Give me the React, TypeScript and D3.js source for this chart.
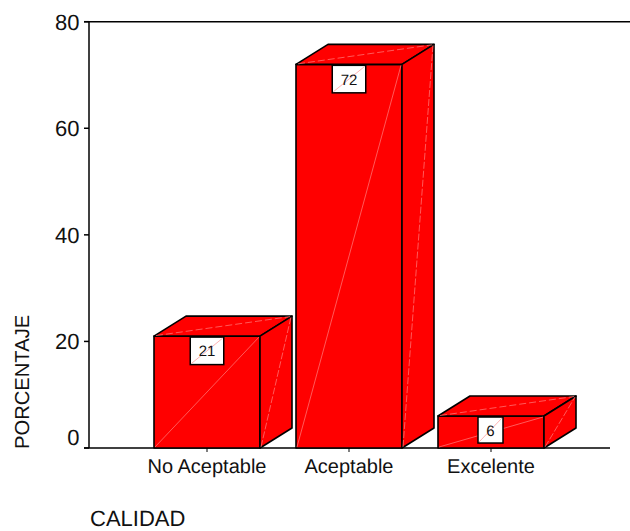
import * as d3 from "d3";

const categories = ["No Aceptable", "Aceptable", "Excelente"];
const percentages = [21, 72, 6];
const yTicks = [0, 20, 40, 60, 80];

const WIDTH = 630;
const HEIGHT = 531;
const FONT = "'Liberation Sans', Arial, sans-serif";
const DEPTH_X = 32;
const DEPTH_Y = -20;
const RED = "#ff0000";
const SHEEN = "#ff8080";

const y = d3.scaleLinear().domain([0, 80]).range([448, 21.7]);
const x = d3
  .scaleBand<string>()
  .domain(categories)
  .range([136, 562])
  .paddingInner(36 / 142)
  .paddingOuter(18 / 142);

const poly = d3.line();

function Bar({ name, value }: { name: string; value: number }) {
  const x0 = x(name)!;
  const x1 = x0 + x.bandwidth();
  const top = y(value);
  const base = y(0);
  const dx = DEPTH_X;
  const dy = DEPTH_Y;

  const front: [number, number][] = [[x0, base], [x0, top], [x1, top], [x1, base]];
  const lid: [number, number][] = [[x0, top], [x0 + dx, top + dy], [x1 + dx, top + dy], [x1, top]];
  const side: [number, number][] = [[x1, base], [x1, top], [x1 + dx, top + dy], [x1 + dx, base + dy]];
  const faces = [front, lid, side];

  return (
    <g>
      {faces.map((f, i) => (
        <path key={i} d={poly(f)! + "Z"} fill={RED} stroke="#000" strokeWidth={1.6} strokeLinejoin="round" />
      ))}
      {/* light seam across each face of the box */}
      <g stroke={SHEEN} strokeWidth={0.7} fill="none">
        <line x1={x0 + 1} y1={base - 1} x2={x1 - 1} y2={top + 1} />
        <line x1={x0 + 2} y1={top - 0.5} x2={x1 + dx - 2} y2={top + dy + 0.5} strokeDasharray="7 3" />
        <line x1={x1 + 1} y1={base - 1} x2={x1 + dx - 1} y2={top + dy + 1} strokeDasharray="7 2" />
      </g>
    </g>
  );
}

function ValueLabel({ name, value }: { name: string; value: number }) {
  const cx = x(name)! + x.bandwidth() / 2;
  const top = y(value);
  const w = value < 10 ? 25 : 33.5;
  const h = value < 10 ? 26 : 27.5;
  const left = cx - w / 2 + (value < 10 ? -0.5 : 0);
  const boxTop = top + 1;
  return (
    <g>
      <rect x={left} y={boxTop} width={w} height={h} fill="#fff" stroke="#000" strokeWidth={1.5} />
      <line x1={left + 1} y1={boxTop + h - 1} x2={left + w - 1} y2={boxTop + 1} stroke={SHEEN} strokeWidth={0.6} />
      <text x={left + w / 2} y={boxTop + h / 2 + 5.5} textAnchor="middle" fontSize={15} fill="#111">
        {value}
      </text>
    </g>
  );
}

export default function App() {
  const base = y(0);
  const ceiling = y(80);
  return (
    <svg
      width={WIDTH}
      height={HEIGHT}
      viewBox={`0 0 ${WIDTH} ${HEIGHT}`}
      style={{ position: "absolute", left: 0, top: 0, background: "#fff" }}
      fontFamily={FONT}
      textRendering="geometricPrecision"
    >
      <g stroke="#000" strokeWidth={1.5}>
        <line x1={89} y1={ceiling} x2={89} y2={base} />
        <line x1={84} y1={ceiling} x2={630} y2={ceiling} />
        <line x1={84} y1={base} x2={610} y2={base} />
        {yTicks.map((t) => (
          <line key={t} x1={84} x2={89} y1={y(t)} y2={y(t)} />
        ))}
        {categories.map((c) => {
          const cx = x(c)! + x.bandwidth() / 2;
          return <line key={c} x1={cx} x2={cx} y1={base} y2={base + 4} strokeWidth={1} />;
        })}
      </g>

      {yTicks.map((t) => (
        <text key={t} x={79.5} y={y(t) + (t === 0 ? -3 : 8)} textAnchor="end" fontSize={22} fill="#111">
          {t}
        </text>
      ))}

      {categories.map((c, i) => (
        <Bar key={c} name={c} value={percentages[i]} />
      ))}
      {categories.map((c, i) => (
        <ValueLabel key={c} name={c} value={percentages[i]} />
      ))}

      {categories.map((c) => (
        <text key={c} x={x(c)! + x.bandwidth() / 2} y={473} textAnchor="middle" fontSize={20} fill="#111">
          {c}
        </text>
      ))}

      <text transform="translate(29,449) rotate(-90)" fontSize={20.2} fill="#111">
        PORCENTAJE
      </text>
      <text x={90} y={526} fontSize={22} fill="#111">
        CALIDAD
      </text>
    </svg>
  );
}
